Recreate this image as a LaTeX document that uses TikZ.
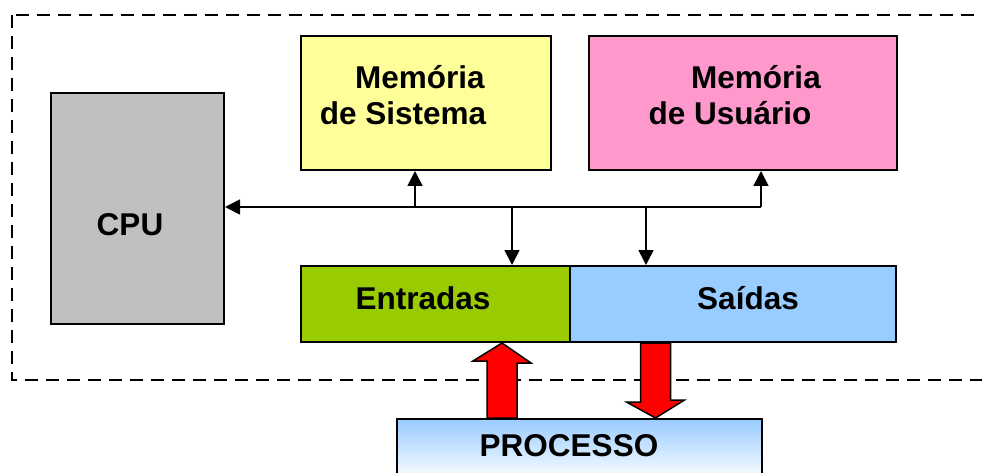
\documentclass[tikz,border=0pt]{standalone}
\usepackage{fontspec}
\setmainfont{Liberation Sans}
\usetikzlibrary{arrows.meta,calc}
\definecolor{cpugray}{HTML}{C0C0C0}
\definecolor{sisyellow}{HTML}{FFFF99}
\definecolor{usupink}{HTML}{FF99CC}
\definecolor{entgreen}{HTML}{99CC00}
\definecolor{saiblue}{HTML}{99CCFF}
\definecolor{arrred}{HTML}{FF0000}
\begin{document}
\begin{tikzpicture}[x=1pt,y=-1pt,
  box/.style={draw=black,line width=2pt,inner sep=0pt,anchor=north west},
  lbl/.style={font=\fontsize{31.5}{36}\selectfont\bfseries,inner sep=0pt,align=center},
  arr/.style={line width=1.6pt,-{Triangle[length=15pt,width=15pt]}},
  redarr/.style={draw=black,line width=1.5pt,fill=arrred,line join=miter},
  frame/.style={draw=black,line width=1.5pt,dash pattern=on 13pt off 8pt}]
\useasboundingbox (0,0) rectangle (982,473);
\clip (0,0) rectangle (982,473);
% dashed system frame
\draw[frame] (12,15) rectangle (1010,380);
% boxes
\node[box,fill=cpugray,minimum width=173pt,minimum height=231pt] (cpu) at (50,92) {};
\node[box,fill=sisyellow,minimum width=250pt,minimum height=134pt] (sis) at (300,35) {};
\node[box,fill=usupink,minimum width=308pt,minimum height=134pt] (usu) at (588,35) {};
\node[box,fill=entgreen,minimum width=269pt,minimum height=76pt] (ent) at (300,265) {};
\node[box,fill=saiblue,minimum width=326pt,minimum height=76pt] (sai) at (569,265) {};
\node[box,top color=saiblue,bottom color=white,minimum width=365pt,minimum height=62pt] (proc) at (396,418) {};
% labels
\node[lbl,anchor=base] (cpuL) at (130,235) {CPU};
\node[lbl] (sisL) at (403,95) {\hspace*{34pt}Memória\\de Sistema};
\node[lbl] (usuL) at (730,95) {\hspace*{52pt}Memória\\de Usuário};
\node[lbl,anchor=base] (entL) at (423,309) {Entradas};
\node[lbl,anchor=base] (saiL) at (748,309) {Saídas};
\node[lbl,anchor=base] (procL) at (569,456) {PROCESSO};
% bus junctions
\coordinate (j1) at (415,207);
\coordinate (j2) at (512,207);
\coordinate (j3) at (646,207);
\coordinate (j4) at (761,207);
\draw[arr] (j4) -- (cpu.east |- j4);
\draw[arr] (j1) -- (sis.south -| j1);
\draw[arr] (j4) -- (usu.south -| j4);
\draw[arr] (j2) -- (ent.north -| j2);
\draw[arr] (j3) -- (sai.north -| j3);
% red block arrows
\coordinate (ua) at (502,0);
\coordinate (da) at (655.5,0);
\draw[redarr] (ent.south -| ua) -- ++(29,20) -- ++(-14,0) -- ($(proc.north -| ua)+(15,0)$)
  -- ($(proc.north -| ua)+(-15,0)$) -- ++(0,-57) -- ++(-14,0) -- cycle;
\draw[redarr] (proc.north -| da) -- ++(29,-18) -- ++(-14,0) -- ($(sai.south -| da)+(15,0)$)
  -- ($(sai.south -| da)+(-15,0)$) -- ++(0,59) -- ++(-14,0) -- cycle;
\end{tikzpicture}
\end{document}
